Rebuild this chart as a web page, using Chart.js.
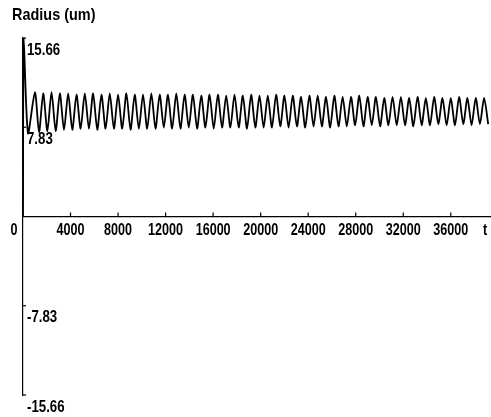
<!DOCTYPE html>
<html>
<head>
<meta charset="utf-8">
<script src="https://cdn.jsdelivr.net/npm/chart.js@4/dist/chart.umd.min.js"></script>
<style>
  html, body { margin: 0; padding: 0; background: #fff; }
  #wrap { width: 491px; height: 417px; }
</style>
</head>
<body>
<div id="wrap"><canvas id="c" width="491" height="417"></canvas></div>
<script>
// values (t, radius in um)
const times = [0, 60, 420,
  1000, 1350, 1700, 2050, 2400, 2750, 3100, 3450, 3800, 4150, 4500, 4850, 5200, 5550, 5900, 6250,
  6600, 6950, 7300, 7650, 8000, 8350, 8700, 9050, 9400, 9750, 10100, 10450, 10800, 11150, 11500, 11850,
  12200, 12550, 12900, 13250, 13600, 13950, 14300, 14650, 15000, 15350, 15700, 16050, 16400, 16750, 17100, 17450,
  17800, 18150, 18500, 18850, 19200, 19550, 19900, 20250, 20600, 20950, 21300, 21650, 22000, 22350, 22700, 23050,
  23400, 23750, 24100, 24450, 24800, 25150, 25500, 25850, 26200, 26550, 26900, 27250, 27600, 27950, 28300, 28650,
  29000, 29350, 29700, 30050, 30400, 30750, 31100, 31450, 31800, 32150, 32500, 32850, 33200, 33550, 33900, 34250,
  34600, 34950, 35300, 35650, 36000, 36350, 36700, 37050, 37400, 37750, 38100, 38450, 38800, 39150];
const radius = [0, 15.66, 7.3,
  10.9, 7.4, 10.8, 7.5, 10.9, 7.5, 10.8, 7.6, 10.8, 7.6, 10.7, 7.7, 10.8, 7.7, 10.8, 7.6, 10.7, 7.7, 10.8, 7.7,
  10.7, 7.7, 10.8, 7.6, 10.7, 7.7, 10.7, 7.7, 10.8, 7.7, 10.7, 7.8, 10.7, 7.7, 10.8, 7.7, 10.7, 7.8, 10.7, 7.7,
  10.6, 7.8, 10.7, 7.7, 10.7, 7.8, 10.6, 7.8, 10.7, 7.8, 10.6, 7.7, 10.7, 7.8, 10.6, 7.8, 10.6, 7.8, 10.7, 7.9,
  10.6, 7.8, 10.6, 7.9, 10.5, 7.8, 10.6, 7.9, 10.6, 7.9, 10.5, 7.8, 10.6, 7.9, 10.5, 7.9, 10.5, 8.0, 10.6, 7.9,
  10.5, 8.0, 10.5, 7.9, 10.4, 8.0, 10.5, 8.0, 10.5, 8.0, 10.4, 7.9, 10.5, 8.0, 10.4, 8.0, 10.5, 8.1, 10.4, 8.0,
  10.4, 8.0, 10.5, 8.1, 10.4, 8.0, 10.4, 8.1, 10.4, 8.1];

const xTicks = [4000, 8000, 12000, 16000, 20000, 24000, 28000, 32000, 36000];
const yTicks = [15.66, 7.83, -7.83, -15.66];
const yTickLabels = ['15.66', '7.83', '-7.83', '-15.66'];
const yTitle = 'Radius (um)';
const xTitle = 't';

const FONT = 'bold 17px "Liberation Sans", Arial, sans-serif';

function squished(ctx, text, x, y, align, sx) {
  ctx.save();
  ctx.translate(x, y);
  ctx.scale(sx, 1);
  ctx.textAlign = align;
  ctx.textBaseline = 'middle';
  ctx.fillText(text, 0, 0);
  ctx.restore();
}

const axisDecor = {
  id: 'axisDecor',
  afterDraw(chart) {
    const ctx = chart.ctx;
    const xs = chart.scales.x, ys = chart.scales.y;
    const x0 = xs.getPixelForValue(0);
    const y0 = ys.getPixelForValue(0);
    ctx.save();
    ctx.strokeStyle = '#000';
    ctx.fillStyle = '#000';
    ctx.lineWidth = 1.2;
    ctx.font = FONT;
    // x ticks point up from the axis
    xTicks.forEach(v => {
      const px = xs.getPixelForValue(v);
      ctx.beginPath();
      ctx.moveTo(px, y0);
      ctx.lineTo(px, y0 - 4);
      ctx.stroke();
      squished(ctx, String(v), px, y0 + 14, 'center', 0.74);
    });
    squished(ctx, '0', x0 - 9, y0 + 14, 'center', 0.74);
    squished(ctx, xTitle, xs.right - 5, y0 + 14, 'center', 0.74);
    // y ticks point right, labels sit under them
    yTicks.forEach((v, i) => {
      const py = ys.getPixelForValue(v);
      ctx.beginPath();
      ctx.moveTo(x0, py);
      ctx.lineTo(x0 + 3, py);
      ctx.stroke();
      squished(ctx, yTickLabels[i], x0 + 4, py + 12, 'left', 0.78);
    });
    squished(ctx, yTitle, 12, 15, 'left', 0.85);
    ctx.restore();
  }
};

new Chart(document.getElementById('c'), {
  type: 'line',
  data: {
    datasets: [{
      data: times.map((t, i) => ({ x: t, y: radius[i] })),
      borderColor: '#000',
      borderWidth: 1.8,
      pointRadius: 0,
      tension: 0.25,
      fill: false
    }]
  },
  options: {
    responsive: false,
    animation: false,
    events: [],
    layout: { padding: { left: 23, top: 38, right: 1, bottom: 22 } },
    plugins: { legend: { display: false }, tooltip: { enabled: false } },
    scales: {
      x: {
        type: 'linear', min: 0, max: 39300,
        position: { y: 0 },
        ticks: { display: false },
        grid: { display: false, drawTicks: false },
        border: { display: true, color: '#000', width: 1.2 }
      },
      y: {
        min: -15.66, max: 15.66,
        ticks: { display: false },
        grid: { display: false, drawTicks: false },
        border: { display: true, color: '#000', width: 1.2 }
      }
    }
  },
  plugins: [axisDecor]
});
</script>
</body>
</html>
